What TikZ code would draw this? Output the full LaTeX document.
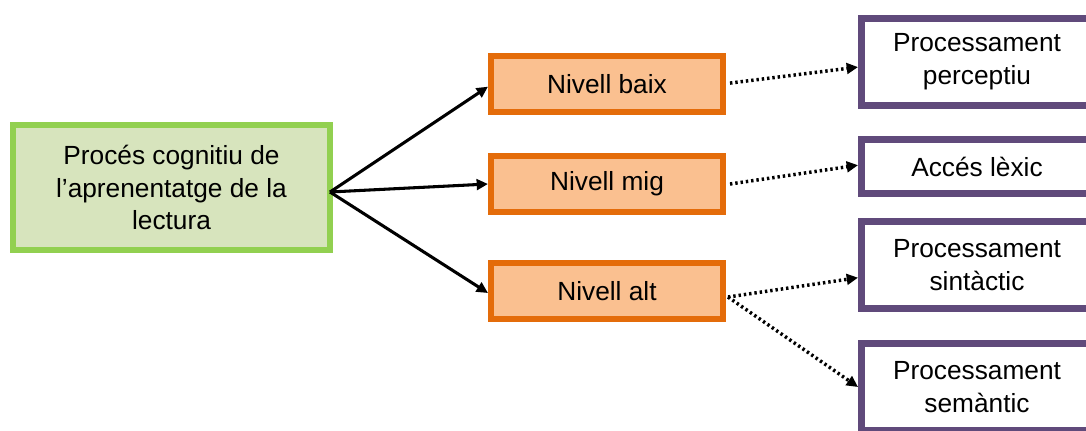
\documentclass[tikz,border=0pt]{standalone}
\usepackage{fontspec}
\setmainfont{Liberation Sans}
\usetikzlibrary{arrows.meta}
\definecolor{gborder}{HTML}{92D050}
\definecolor{gfill}{HTML}{D7E4BD}
\definecolor{oborder}{HTML}{E46C0A}
\definecolor{ofill}{HTML}{FAC090}
\definecolor{pborder}{HTML}{604A7B}
\tikzset{
  txt/.style={font=\fontsize{19.7}{24.7}\selectfont, align=center, inner sep=0pt, text=black},
  rootbox/.style={txt, draw=gborder, fill=gfill, line width=4.5pt, minimum width=317*0.75pt, minimum height=125*0.75pt},
  lvlbox/.style={txt, draw=oborder, fill=ofill, line width=4.5pt, minimum width=232*0.75pt, minimum height=56*0.75pt},
  procbox/.style={txt, draw=pborder, fill=white, line width=5.2pt, minimum width=231*0.75pt},
  tall/.style={minimum height=87*0.75pt},
  short/.style={minimum height=54*0.75pt},
  solidarrow/.style={line width=2.3pt, -{Triangle[length=8.5pt,width=8pt]}},
  dotarrow/.style={line width=2.6pt, dash pattern=on 1.8pt off 2.2pt, -{Triangle[length=8.5pt,width=8pt]}}
}
\begin{document}
\begin{tikzpicture}[x=0.75pt, y=-0.75pt]
\useasboundingbox (0,0) rectangle (1086,430);
\begin{scope}
\clip (0,0) rectangle (1086,430);
\node[rootbox] (root) at (171.5,187.5) {Procés cognitiu de\\l’aprenentatge de la\\lectura};
\node[lvlbox] (baix) at (607,84) {Nivell baix};
\node[lvlbox] (mig) at (607,184) {Nivell mig};
\node[lvlbox] (alt) at (607,291) {Nivell alt};
\node[procbox, tall] (p1) at (977,62) {Processament\\perceptiu};
\node[procbox, short] (p2) at (977,166.5) {Accés lèxic};
\node[procbox, tall] (p3) at (977,265) {Processament\\sintàctic};
\node[procbox, tall] (p4) at (977,387) {Processament\\semàntic};
\coordinate (src) at (330,192);
\draw[solidarrow] (src) -- ([yshift=-2pt]baix.west);
\draw[solidarrow] (src) -- (mig.west);
\draw[solidarrow] (src) -- ([yshift=-1.5pt]alt.west);
\draw[dotarrow] ([xshift=3pt,yshift=0.7pt]baix.east) -- ([yshift=-3.8pt]p1.west);
\draw[dotarrow] ([xshift=3pt]mig.east) -- ([yshift=1pt]p2.west);
\coordinate (altout) at ([xshift=1.5pt,yshift=-4.5pt]alt.east);
\draw[dotarrow] (altout) -- ([yshift=-9.5pt]p3.west);
\draw[dotarrow] (altout) -- (p4.west);
\end{scope}
\end{tikzpicture}
\end{document}
